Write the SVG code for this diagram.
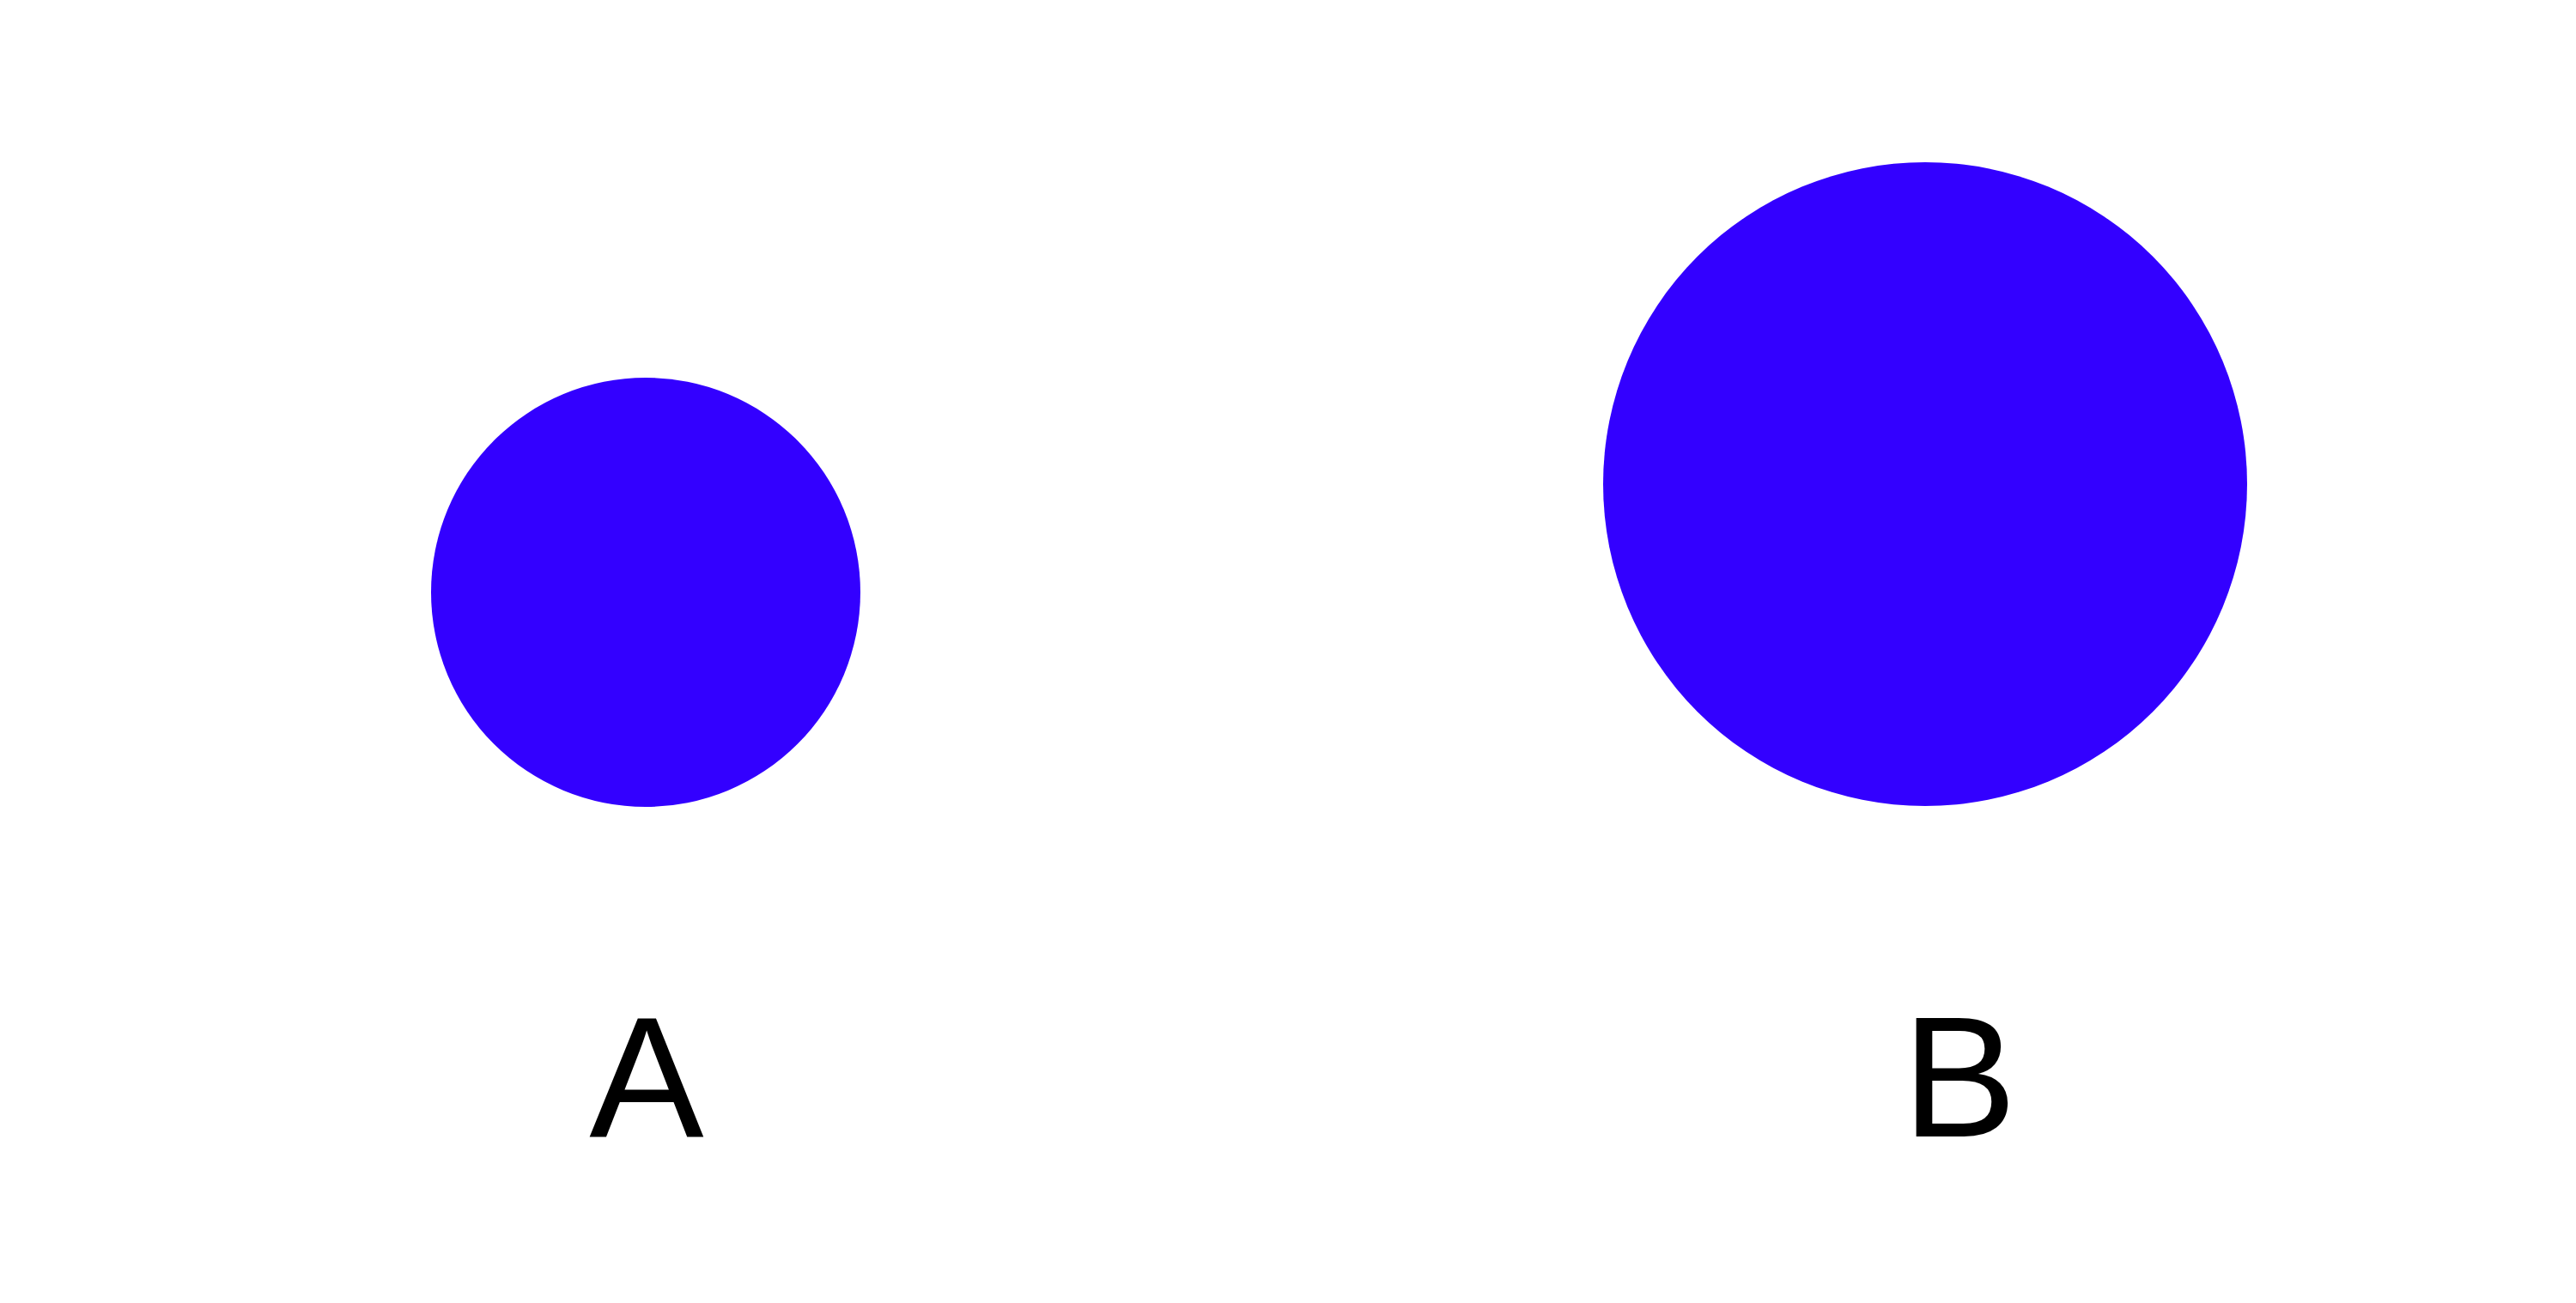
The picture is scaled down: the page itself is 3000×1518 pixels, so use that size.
<svg xmlns="http://www.w3.org/2000/svg" width="3000" height="1518" viewBox="0 0 3000 1518">
<style>
.dot{fill:#3300ff}
.lbl{font-family:"Liberation Sans",Arial,sans-serif;font-size:200px;fill:#000;text-anchor:middle}
</style>
<rect width="3000" height="1518" fill="#fff"/>
<g id="nodeA">
<circle class="dot" cx="752" cy="690" r="250"/>
<text class="lbl" x="753" y="1324">A</text>
</g>
<g id="nodeB">
<circle class="dot" cx="2242" cy="564" r="375"/>
<text class="lbl" x="2282" y="1324">B</text>
</g>
<g id="connectors"></g>
</svg>
